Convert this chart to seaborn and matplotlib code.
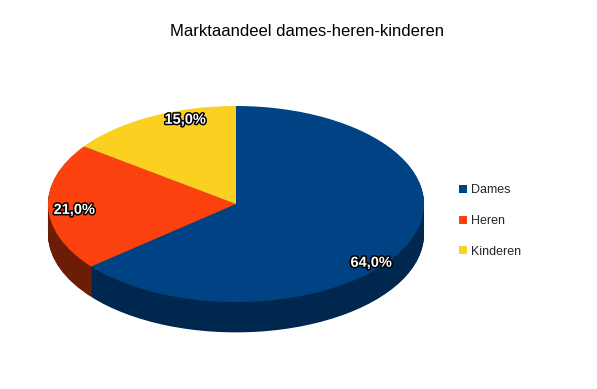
import matplotlib
matplotlib.use("Agg")
import matplotlib.pyplot as plt
import matplotlib.patheffects as pe
import seaborn as sns

# data
categories = ["Dames", "Heren", "Kinderen"]
shares = [64.0, 21.0, 15.0]
top_colors = ["#004384", "#fb420e", "#fbd020"]
side_colors = ["#00284f", "#6b1d07", "#7a6010"]

sns.set_theme(style="white")
plt.rcParams["font.family"] = ["Liberation Sans", "DejaVu Sans"]

fig = plt.figure(figsize=(5.97, 3.89), dpi=100)
ax = fig.add_axes([0, 0, 1, 1])

# 3D look: stack darker copies of the pie downwards to form the side wall
depth = 0.31
n_layers = 40
for i in range(n_layers, 0, -1):
    ax.pie(shares, colors=side_colors, startangle=90, counterclock=False,
           center=(0, -depth * i / n_layers), radius=1,
           wedgeprops=dict(linewidth=0))

wedges, _, autotexts = ax.pie(
    shares, colors=top_colors, startangle=90, counterclock=False,
    radius=1, autopct=lambda p: f"{p:.1f}%".replace(".", ","),
    pctdistance=0.8, wedgeprops=dict(linewidth=0),
    textprops=dict(color="white", fontsize=10.5, fontweight="bold"))

# label placement as in the reference (perspective shifts them)
label_pos = [(0.72, -0.60), (-0.86, -0.06), (-0.27, 0.86)]
for t, pos in zip(autotexts, label_pos):
    t.set_position(pos)
    t.set_path_effects([pe.withStroke(linewidth=2.2, foreground="black")])

# squash the circle to an ellipse (rx=188px, ry=98px, center at 236,204)
ax.set_aspect("auto")
ax.set_xlim(-236 / 188, (597 - 236) / 188)
ax.set_ylim(-185 / 98, (389 - 185) / 98)
ax.axis("off")

fig.text(307 / 597, 1 - 32 / 389, "Marktaandeel dames-heren-kinderen",
         ha="center", va="center", fontsize=12, color="black")

ax.legend(wedges, categories, loc="center left",
          bbox_to_anchor=(448 / 597, 1 - 221 / 389), frameon=False,
          fontsize=9, handlelength=0.6, handleheight=0.6,
          handletextpad=0.3, labelspacing=1.5)

fig.savefig("out.png", dpi=100, facecolor="white")
